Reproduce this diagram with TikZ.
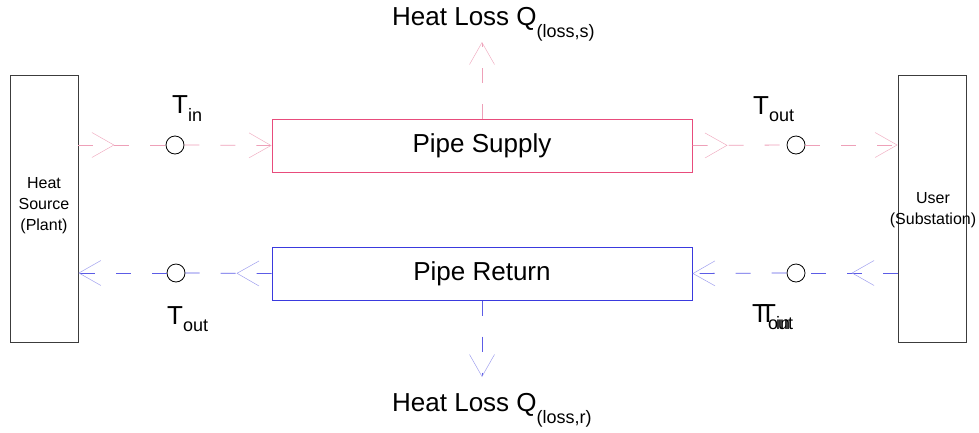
\documentclass[tikz,border=0pt]{standalone}
\usepackage{fontspec}
\setmainfont{Liberation Sans}
\usetikzlibrary{arrows.meta,decorations.markings}

\definecolor{supedge}{RGB}{232,76,124}
\definecolor{supflowc}{RGB}{238,160,184}
\definecolor{supbarbc}{RGB}{240,175,195}
\definecolor{retedge}{RGB}{58,58,222}
\definecolor{retflowc}{RGB}{92,92,230}
\definecolor{retbarbc}{RGB}{160,160,238}
\definecolor{sideedge}{RGB}{60,60,60}

\newcommand\withsub[3]{#1\raisebox{-#3}{\fontsize{18}{18}\selectfont #2}}

\tikzset{
  pipebox/.style={draw, line width=1pt, minimum width=420pt, minimum height=53pt,
    inner sep=0pt, font=\fontsize{26}{30}\selectfont},
  sidebox/.style={draw=sideedge, line width=0.8pt, minimum width=68pt,
    minimum height=267pt, inner sep=0pt},
  sidetext/.style={align=center, inner sep=0pt, font=\fontsize{16}{21}\selectfont},
  sensor/.style={circle, draw=black, line width=0.8pt, minimum size=18pt, inner sep=0pt},
  biglabel/.style={inner sep=0pt, font=\fontsize{26}{30}\selectfont},
  flowdash/.style={line width=0.8pt, dash pattern=on 15pt off 21pt},
  supflow/.style={flowdash, draw=supflowc},
  retflow/.style={flowdash, draw=retflowc},
  supend/.style={-{Straight Barb[length=22pt, width=25pt, line width=0.5pt, color=supbarbc]}},
  retend/.style={-{Straight Barb[length=22pt, width=25pt, line width=0.5pt, color=retbarbc]}},
  supmid/.style={postaction={decorate, decoration={markings,
    mark=at position #1 with {\arrow{Straight Barb[length=22pt, width=25pt, line width=0.5pt, color=supbarbc]}}}}},
  retmid/.style={postaction={decorate, decoration={markings,
    mark=at position #1 with {\arrow{Straight Barb[length=22pt, width=25pt, line width=0.5pt, color=retbarbc]}}}}},
}

\begin{document}
\begin{tikzpicture}[x=1pt, y=-1pt]
  \useasboundingbox (0,0) rectangle (979,432);

  % plant and substation
  \node[sidebox] (src) at (44,208.5) {};
  \node[sidetext] (srctext) at (44,206) {Heat\\Source\\(Plant)};
  \node[sidebox] (user) at (932,208.5) {};
  \node[sidetext] (usertext) at (933,210) {User\\(Substation)};

  % pipes
  \node[pipebox, draw=supedge] (sup) at (482,145.5) {Pipe Supply};
  \node[pipebox, draw=retedge] (ret) at (482,273.5) {Pipe Return};

  % temperature sensors
  \node[sensor] (c1) at (175,145) {};
  \node[sensor] (c2) at (796,145) {};
  \node[sensor] (c3) at (176,273) {};
  \node[sensor] (c4) at (796,273) {};

  % heat loss end points
  \coordinate (qsTip) at (482,42);
  \coordinate (qrTip) at (482,377);

  % supply flow
  \draw[supflow, supmid=36pt] (src.east |- c1.center) -- (c1.west);
  \draw[supflow, supend] (c1.east) -- (sup.west);
  \draw[supflow, supmid=35pt] (sup.east) -- (c2.west);
  \draw[supflow, supend] (c2.east) -- (user.west |- c2.center);
  \draw[supflow, supend] (sup.north) -- (qsTip);

  % return flow
  \draw[retflow, retmid=46pt] (user.west |- c4.center) -- (c4.east);
  \draw[retflow, retend] (c4.west) -- (ret.east);
  \draw[retflow, retmid=35pt] (ret.west) -- (c3.east);
  \draw[retflow, retend] (c3.west) -- (src.east |- c3.center);
  \draw[retflow, retend] (ret.south) -- (qrTip);

  % labels
  \node[biglabel, anchor=base west] (tin1) at (172,113) {\withsub{T}{in}{8pt}};
  \node[biglabel, anchor=base west] (tout1) at (753,114) {\withsub{T}{out}{7pt}};
  \node[biglabel, anchor=base west] (tout2) at (167,324) {\withsub{T}{out}{7pt}};
  \node[biglabel, anchor=base west] (tout3) at (752,322) {\withsub{T}{out}{7pt}};
  \node[biglabel, anchor=base west] (tin2) at (760,322) {\withsub{T}{in}{7pt}};
  \node[biglabel, anchor=base west] (qs) at (392,25) {Heat Loss \withsub{Q}{(loss,s)}{12pt}};
  \node[biglabel, anchor=base west] (qr) at (392,411) {Heat Loss \withsub{Q}{(loss,r)}{12pt}};
\end{tikzpicture}
\end{document}
